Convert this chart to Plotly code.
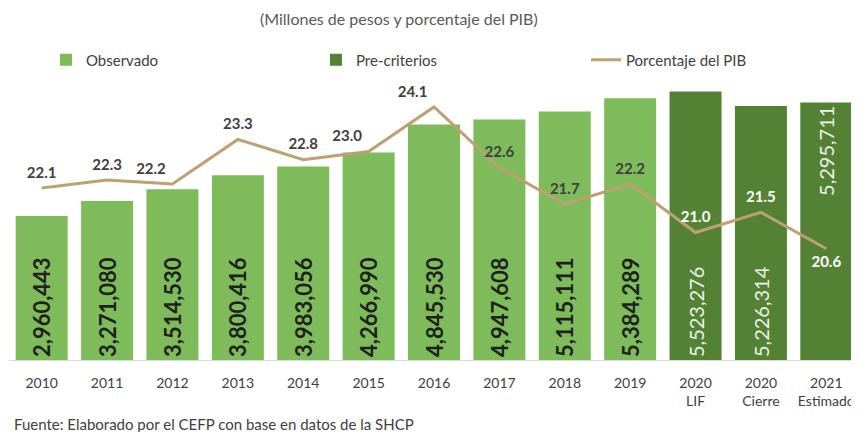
import plotly.graph_objects as go

# categorías del eje x
categorias = ["2010", "2011", "2012", "2013", "2014", "2015", "2016", "2017", "2018", "2019",
              "2020<br>LIF", "2020<br>Cierre", "2021<br>Estimado"]

# millones de pesos
observado = [2960443, 3271080, 3514530, 3800416, 3983056, 4266990, 4845530,
             4947608, 5115111, 5384289]
pre_criterios = [5523276, 5226314, 5295711]

# porcentaje del PIB
pct_pib = [22.1, 22.3, 22.2, 23.3, 22.8, 23.0, 24.1, 22.6, 21.7, 22.2, 21.0, 21.5, 20.6]

VERDE = "#7EBB5A"
VERDE_OSC = "#548235"
LINEA = "#BF9F74"
GRIS = "#404040"
FONT = "Lato"

cat_obs = categorias[:10]
cat_pre = categorias[10:]

fig = go.Figure()

fig.add_trace(go.Bar(
    x=cat_obs, y=observado, name="Observado",
    marker=dict(color=VERDE, line=dict(width=0)),
    text=[f"{v:,}" for v in observado],
    textposition="inside", insidetextanchor="start", textangle=-90,
    textfont=dict(family=FONT, size=22, color="#1F1F1F", weight="bold"),
))
fig.add_trace(go.Bar(
    x=cat_pre[:2], y=pre_criterios[:2], name="Pre-criterios",
    marker=dict(color=VERDE_OSC, line=dict(width=0)),
    text=[f"{v:,}" for v in pre_criterios[:2]],
    textposition="inside", insidetextanchor="start", textangle=-90,
    textfont=dict(family=FONT, size=20, color="#EDF3E8"),
))
# 2021 lleva la etiqueta arriba
fig.add_trace(go.Bar(
    x=cat_pre[2:], y=pre_criterios[2:], name="Pre-criterios", showlegend=False,
    marker=dict(color=VERDE_OSC, line=dict(width=0)),
    text=[f"{v:,}" for v in pre_criterios[2:]],
    textposition="inside", insidetextanchor="end", textangle=-90,
    textfont=dict(family=FONT, size=20, color="#EDF3E8"),
))

posiciones = ["top center", "top center", "top left", "top center", "top center", "top left",
              "top left", "top center", "top center", "top center", "top center", "top center",
              "bottom center"]
colores_txt = [GRIS] * 10 + ["white"] * 3

fig.add_trace(go.Scatter(
    x=categorias, y=pct_pib, name="Porcentaje del PIB", yaxis="y2",
    mode="lines+markers+text",
    line=dict(color=LINEA, width=3),
    marker=dict(size=9, color="rgba(0,0,0,0)"),
    text=[f"{v:.1f}" for v in pct_pib],
    textposition=posiciones,
    textfont=dict(family=FONT, size=15, color=colores_txt, weight="bold"),
    cliponaxis=False,
))

# la página añade 8 px de margen: la figura se dibuja 8 px menor
fig.update_layout(
    width=851, height=424,
    margin=dict(l=1, r=0, t=72, b=72),
    paper_bgcolor="white", plot_bgcolor="white",
    font=dict(family=FONT, size=14, color=GRIS),
    barmode="overlay", bargap=0.205,
    showlegend=True,
    legend=dict(orientation="h", x=0.0435, xanchor="left", y=1.071, yanchor="middle",
                entrywidth=225, entrywidthmode="pixels",
                font=dict(family=FONT, size=15, color=GRIS), traceorder="normal"),
    xaxis=dict(type="category", range=[-0.5, 12.5], showline=True, linecolor="#D9D9D9",
               linewidth=1, ticks="", showgrid=False, ticklabelstandoff=10,
               tickfont=dict(family=FONT, size=14, color=GRIS)),
    yaxis=dict(range=[0, 5.761e6], visible=False),
    yaxis2=dict(range=[17.853, 24.767], overlaying="y", side="right", visible=False),
    annotations=[
        dict(text="(Millones de pesos y porcentaje del PIB)", xref="paper", yref="paper",
             x=0.459, y=1.221, xanchor="center", yanchor="middle", showarrow=False,
             font=dict(family=FONT, size=16, color="#595959")),
        dict(text="Fuente: Elaborado por el CEFP con base en datos de la SHCP",
             xref="paper", yref="paper", x=0.004, y=-0.229, xanchor="left",
             yanchor="middle", showarrow=False,
             font=dict(family=FONT, size=15, color=GRIS)),
    ],
)

fig.write_html("out.html")
